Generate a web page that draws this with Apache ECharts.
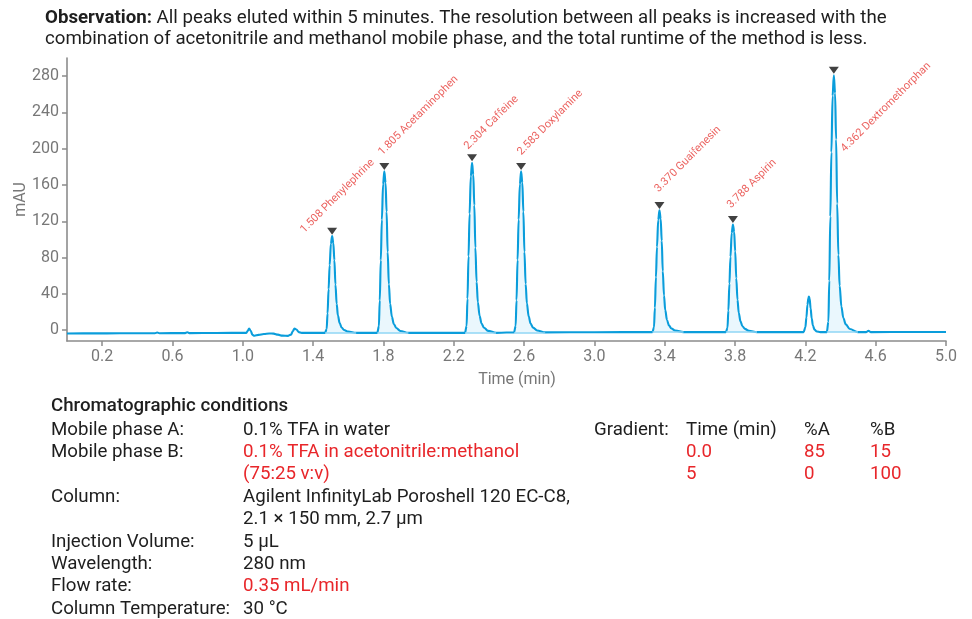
<!DOCTYPE html>
<html>
<head>
<meta charset="utf-8">
<script src="https://cdn.jsdelivr.net/npm/echarts@6/dist/echarts.min.js"></script>
<style>
  html, body { margin: 0; padding: 0; background: #fff; }
  #chart { width: 972px; height: 619px; }
</style>
</head>
<body>
<div id="chart"></div>
<script>
// ---- Identified peaks ----
const peakNames = ['Phenylephrine', 'Acetaminophen', 'Caffeine', 'Doxylamine', 'Guaifenesin', 'Aspirin', 'Dextromethorphan'];
const peakTimes = [1.508, 1.805, 2.304, 2.583, 3.370, 3.788, 4.362];
const peakHeights = [103.6, 175, 184.5, 175, 132, 116.5, 281];

// ---- Axis ticks ----
const xTicks = [0.2, 0.6, 1.0, 1.4, 1.8, 2.2, 2.6, 3.0, 3.4, 3.8, 4.2, 4.6, 5.0];
const yTicks = [0, 40, 80, 120, 160, 200, 240, 280];

// ---- Detector trace, [time (min), mAU] ----
const baselineStart = [
  [0, -3.7], [0.15, -3.6], [0.3, -3.5], [0.5, -3.4], [0.513, -2.6], [0.526, -3.4],
  [0.672, -3.3], [0.684, -2.3], [0.696, -3.3], [0.85, -3.1], [1.02, -3.0],
  [1.028, -0.8], [1.036, 1.8], [1.045, -0.8], [1.055, -5.2], [1.066, -6.2],
  [1.09, -5.3], [1.12, -4.3], [1.15, -3.7], [1.175, -3.9], [1.2, -5.0],
  [1.225, -6.1], [1.258, -6.3], [1.274, -5.0], [1.285, -1.0], [1.294, 1.8],
  [1.305, 0.6], [1.318, -2.2], [1.335, -3.0], [1.4, -3.0]
];
const phenylephrine = [
  [1.468, -3], [1.477, 1.3], [1.482, 18.3], [1.488, 45], [1.494, 71.6], [1.501, 95.1],
  [1.508, 103.6], [1.515, 96.1], [1.521, 77], [1.527, 50.3], [1.534, 29], [1.541, 16.2],
  [1.551, 7.7], [1.562, 2.9], [1.576, 0.2], [1.599, -1.7], [1.645, -3]
];
const gapA = [[1.70, -3]];
const acetaminophen = [
  [1.765, -3], [1.774, 4.1], [1.779, 32.6], [1.785, 77.1], [1.791, 121.6], [1.798, 160.8],
  [1.805, 175], [1.812, 162.5], [1.818, 130.5], [1.824, 86], [1.831, 50.4], [1.838, 29],
  [1.848, 14.8], [1.859, 6.8], [1.873, 2.3], [1.896, -0.9], [1.942, -3]
];
const gapB = [[2.1, -3]];
const caffeine = [
  [2.264, -3], [2.273, 4.5], [2.278, 34.5], [2.284, 81.4], [2.290, 128.3], [2.297, 169.5],
  [2.304, 184.5], [2.311, 171.4], [2.317, 137.6], [2.323, 90.8], [2.330, 53.3], [2.337, 30.8],
  [2.347, 15.8], [2.358, 7.3], [2.372, 2.6], [2.395, -0.8], [2.441, -3]
];
const gapC = [[2.5, -2.7]];
const doxylamine = [
  [2.543, -2.5], [2.552, 4.6], [2.557, 33], [2.563, 77.4], [2.569, 121.8], [2.576, 160.8],
  [2.583, 175], [2.590, 162.6], [2.596, 130.6], [2.602, 86.3], [2.609, 50.8], [2.616, 29.5],
  [2.626, 15.3], [2.637, 7.3], [2.651, 2.8], [2.674, -0.4], [2.720, -2.5]
];
const gapD = [[3.0, -2.3]];
const guaifenesin = [
  [3.330, -2.2], [3.339, 3.2], [3.344, 24.6], [3.350, 58.2], [3.356, 91.7], [3.363, 121.3],
  [3.370, 132], [3.377, 122.6], [3.383, 98.5], [3.389, 64.9], [3.396, 38.1], [3.403, 22],
  [3.413, 11.2], [3.424, 5.2], [3.438, 1.8], [3.461, -0.6], [3.507, -2.2]
];
const gapE = [[3.6, -2.2]];
const aspirin = [
  [3.748, -2.2], [3.757, 2.5], [3.762, 21.5], [3.768, 51.2], [3.774, 80.9], [3.781, 107],
  [3.788, 116.5], [3.795, 108.2], [3.801, 86.8], [3.807, 57.2], [3.814, 33.4], [3.821, 19.2],
  [3.831, 9.7], [3.842, 4.3], [3.856, 1.4], [3.879, -0.8], [3.925, -2.2]
];
const gapF = [[4.1, -2.2]];
const unknownPeak = [
  [4.190, -2.2], [4.200, 3], [4.206, 14], [4.212, 28], [4.217, 35], [4.220, 37],
  [4.224, 35], [4.230, 24], [4.236, 13], [4.243, 5], [4.252, 0.5], [4.265, -1.5], [4.285, -2.2]
];
const dextromethorphan = [
  [4.322, -2.2], [4.331, 9.1], [4.336, 54.4], [4.342, 125.2], [4.348, 196], [4.355, 258.3],
  [4.362, 281], [4.369, 261.2], [4.375, 210.2], [4.381, 139.4], [4.388, 82.8], [4.395, 48.8],
  [4.405, 26.1], [4.416, 13.4], [4.430, 6.3], [4.453, 1.2], [4.499, -2.2]
];
const baselineEnd = [
  [4.545, -2.2], [4.559, -0.8], [4.573, -2.2], [4.8, -2.1], [5.0, -2.1]
];

// ---- Method text ----
const titleLines = [
  '{b|Observation:} All peaks eluted within 5 minutes. The resolution between all peaks is increased with the',
  'combination of acetonitrile and methanol mobile phase, and the total runtime of the method is less.'
];
const condLabels = ['Mobile phase A:', 'Mobile phase B:', '', 'Column:', '', 'Injection Volume:', 'Wavelength:', 'Flow rate:', 'Column Temperature:'];
const condValues = ['0.1% TFA in water', '0.1% TFA in acetonitrile:methanol', '(75:25 v:v)',
  'Agilent InfinityLab Poroshell 120 EC-C8,', '2.1 × 150 mm, 2.7 µm', '5 µL', '280 nm', '0.35 mL/min', '30 °C'];
const condHighlight = [false, true, true, false, false, false, false, true, false];
const gradientHeader = ['Time (min)', '%A', '%B'];
const gradientTime = ['0.0', '5'];
const gradientA = ['85', '0'];
const gradientB = ['15', '100'];

// ---- Styling ----
const TRACE = '#0a9ddb';
const RED = '#e8262a';
const LABEL_RED = '#e63a36';
const AXIS_GREY = '#8c8c8c';
const TEXT_GREY = '#777777';
const INK = '#1e1e1e';
const FONT = 'Roboto';
const BODY_SIZE = 18.7;
// label anchor shifts, in the rotated label frame: [along text, across text]
const labelShift = [[-21.2, -15.5], [6.3, -6.4], [2.8, -5.7], [7.8, -5.0], [8.5, -7.1], [6.3, -6.4], [-50.2, 68.5]];

const peakSegments = [phenylephrine, acetaminophen, caffeine, doxylamine, guaifenesin, aspirin, dextromethorphan];
const trace = [].concat(baselineStart, phenylephrine, gapA, acetaminophen, gapB, caffeine, gapC,
  doxylamine, gapD, guaifenesin, gapE, aspirin, gapF, unknownPeak, dextromethorphan, baselineEnd);

// integrated peak areas, filled down to their own baseline
const fillSeries = peakSegments.map(seg => {
  const base = seg[0][1];
  return {
    type: 'line',
    data: seg,
    showSymbol: false,
    smooth: 0.35,
    smoothMonotone: 'x',
    silent: true,
    z: 2,
    lineStyle: { width: 0 },
    areaStyle: { color: 'rgba(150, 215, 245, 0.28)', origin: base },
    markLine: {
      silent: true,
      symbol: 'none',
      label: { show: false },
      lineStyle: { color: '#8fd6f5', width: 1.5, type: 'solid' },
      data: [[{ coord: [seg[0][0], base] }, { coord: [seg[seg.length - 1][0], base] }]]
    }
  };
});

function textEl(x, y, text, fill, extra) {
  return {
    type: 'text', x: x, y: y,
    style: Object.assign({ text: text, fill: fill, fontSize: BODY_SIZE, fontFamily: FONT, verticalAlign: 'middle' }, extra || {})
  };
}

const graphics = [];
titleLines.forEach((line, i) => {
  graphics.push(textEl(45, 18 + i * 21.5, line, INK, {
    rich: { b: { fontWeight: 'bold', fontSize: BODY_SIZE, fontFamily: FONT, fill: INK } }
  }));
});
const rowY0 = 430, rowStep = 22.4;
graphics.push(textEl(51, 406.7, 'Chromatographic conditions', INK, { fontWeight: 500 }));
condLabels.forEach((lab, i) => {
  if (lab) graphics.push(textEl(51, rowY0 + i * rowStep, lab, INK));
  graphics.push(textEl(243, rowY0 + i * rowStep, condValues[i], condHighlight[i] ? RED : INK));
});
const gradCols = [686, 804, 870];
graphics.push(textEl(594, rowY0, 'Gradient:', INK));
gradientHeader.forEach((h, c) => graphics.push(textEl(gradCols[c], rowY0, h, INK)));
gradientTime.forEach((t, r) => {
  [t, gradientA[r], gradientB[r]].forEach((v, c) => {
    graphics.push(textEl(gradCols[c], rowY0 + (r + 1) * rowStep, v, RED));
  });
});

const chart = echarts.init(document.getElementById('chart'), null, { renderer: 'canvas' });
chart.setOption({
  animation: false,
  backgroundColor: '#ffffff',
  grid: { left: 67, right: 26, top: 58, bottom: 278, containLabel: false, outerBoundsMode: 'none' },
  xAxis: {
    type: 'value', min: 0, max: 5,
    name: 'Time (min)', nameLocation: 'middle', nameGap: 31,
    nameTextStyle: { color: TEXT_GREY, fontSize: 16, fontFamily: FONT, padding: [0, 0, 0, 21] },
    axisLine: { show: true, onZero: false, lineStyle: { color: AXIS_GREY, width: 1.6 } },
    axisTick: { show: true, customValues: xTicks, length: 5, lineStyle: { color: AXIS_GREY, width: 1.5 } },
    axisLabel: { customValues: xTicks, margin: 8, color: TEXT_GREY, fontSize: 16, fontFamily: FONT,
      formatter: v => Number(v).toFixed(1) },
    splitLine: { show: false }
  },
  yAxis: {
    type: 'value', min: -12, max: 300,
    name: 'mAU', nameLocation: 'middle', nameGap: 38, nameRotate: 90, nameMoveOverlap: false,
    nameTextStyle: { color: TEXT_GREY, fontSize: 16, fontFamily: FONT },
    axisLine: { show: true, onZero: false, lineStyle: { color: AXIS_GREY, width: 1.6 } },
    axisTick: { show: true, customValues: yTicks, length: 5, lineStyle: { color: AXIS_GREY, width: 1.5 } },
    axisLabel: { customValues: yTicks, margin: 8, color: TEXT_GREY, fontSize: 16, fontFamily: FONT },
    splitLine: { show: false }
  },
  graphic: graphics,
  series: fillSeries.concat([
    {
      type: 'line',
      data: trace,
      showSymbol: false,
      smooth: 0.35,
      smoothMonotone: 'x',
      z: 3,
      lineStyle: { color: TRACE, width: 2.1 }
    },
    {
      type: 'scatter',
      z: 5,
      data: peakTimes.map((t, i) => ({ value: [t, peakHeights[i]], label: { offset: labelShift[i] } })),
      symbol: 'path://M0,0 L10,0 L5,7 Z',
      symbolSize: [10, 7],
      symbolOffset: [0, -5],
      itemStyle: { color: '#111111' },
      label: {
        show: true, position: 'inside', rotate: 45, align: 'left', verticalAlign: 'bottom',
        color: LABEL_RED, fontSize: 11, fontFamily: FONT,
        formatter: p => peakTimes[p.dataIndex].toFixed(3) + ' ' + peakNames[p.dataIndex]
      }
    }
  ])
});
</script>
</body>
</html>
